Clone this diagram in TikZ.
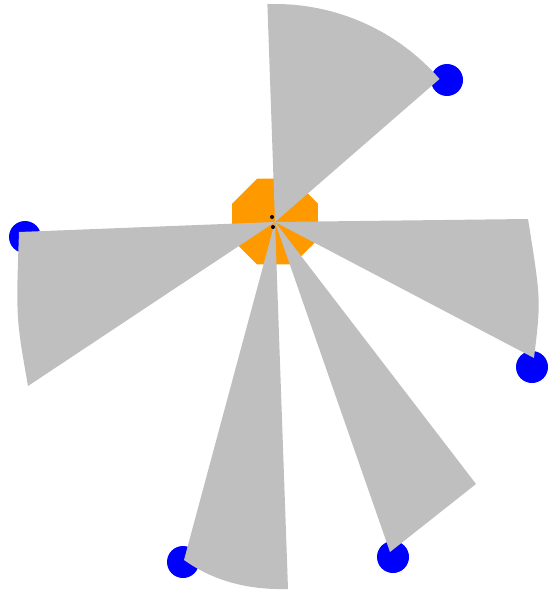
\documentclass[tikz,border=0pt]{standalone}
\usepackage{tikz}
\usepackage{xcolor}
\usetikzlibrary{shapes.geometric}
\definecolor{bodyorange}{RGB}{255,153,0}

\begin{document}
\begin{tikzpicture}[x=1pt, y=-1pt]
  \tikzstyle{beam}=[fill=lightgray]
  \tikzstyle{sensor}=[fill=blue]
  \tikzstyle{robot}=[regular polygon, regular polygon sides=8, minimum size=93, inner sep=0pt, fill=bodyorange]
  \useasboundingbox (0,0) rectangle (550,591);
  \coordinate (hub) at (275,222);
  % robot body and sensor heads
  \node[robot] (body) at (275,221.5) {};
  \foreach \sx/\sy in {447/80, 25/237, 532/367, 183/562, 393/557}
    \fill[sensor] (\sx,\sy) circle[radius=16];
  % sensor beams
  \fill[beam] (hub) -- ++(-92:218) arc[start angle=-92, end angle=-41, radius=218] -- cycle;
  \fill[beam] (hub) -- (19,232) .. controls (16,318) .. (28,386) -- cycle;
  \fill[beam] (hub) -- (528,219) .. controls (541,300) .. (534,358) -- cycle;
  \fill[beam] (hub) -- (184,560) .. controls (215,582) and (250,590) .. (288,589) -- cycle;
  \fill[beam] (hub) -- (476,484) -- (390,552) -- cycle;
  % wheel axis marks
  \fill[black] (272,217) circle[radius=2];
  \fill[black] (273,227) circle[radius=2];
\end{tikzpicture}
\end{document}
